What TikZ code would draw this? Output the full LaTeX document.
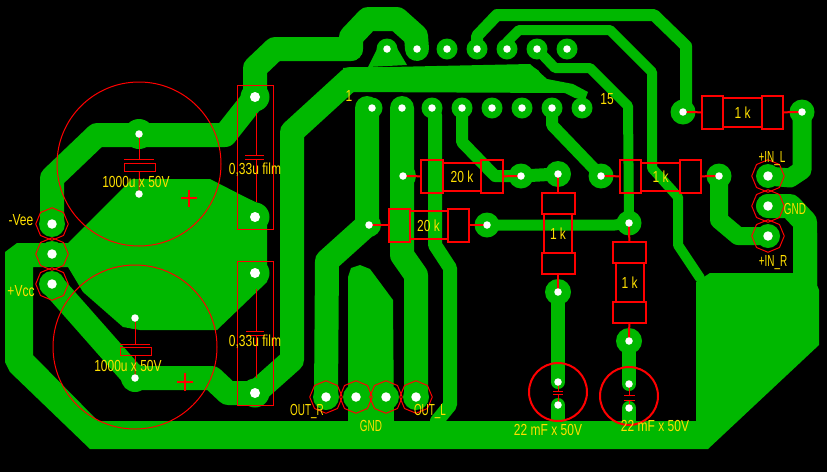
\documentclass[tikz,border=0pt]{standalone}
\usepackage{fontspec}
\usepackage{xcolor}
\usetikzlibrary{shapes.geometric,positioning}
\newfontfamily\silkfont[FakeStretch=0.75]{Liberation Sans}
\newfontfamily\silkcaps[FakeStretch=0.62]{Liberation Sans}
\definecolor{copper}{RGB}{0,184,0}
\definecolor{silk}{RGB}{255,224,0}
\definecolor{outline}{RGB}{255,0,0}

\begin{document}
\begin{tikzpicture}[
    x=1pt, y=-1pt,
    track/.style={draw=copper, line width=#1, line join=round, line cap=round},
    track/.default=24pt,
    pour/.style={fill=copper},
    pad/.style={circle, fill=copper, inner sep=0pt, minimum size=#1},
    pad/.default=21pt,
    hole/.style={circle, fill=white, inner sep=0pt, minimum size=#1},
    hole/.default=7.5pt,
    silktext/.style={font=\silkfont\fontsize{16}{16}\selectfont, text=silk, inner sep=0pt, text height=12pt, text depth=0pt},
    silkcap/.style={silktext, font=\silkcaps\fontsize{16}{16}\selectfont},
    rbody/.style={rectangle, draw=outline, line width=2pt, inner sep=0pt, outer sep=0pt, silktext, minimum width=#1},
    rcap/.style={rectangle, draw=outline, line width=2pt, inner sep=0pt, outer sep=0pt},
    lead/.style={draw=outline, line width=2pt},
    thin/.style={draw=outline, line width=1pt},
    header/.style={regular polygon, regular polygon sides=8, shape border rotate=22.5, draw=outline, line width=1pt, inner sep=0pt, minimum size=32.5pt}
]

\fill[black] (0,0) rectangle (827,472);
\useasboundingbox (0,0) rectangle (827,472);

% Pins
\coordinate (top1) at (387,49);
\coordinate (top2) at (417,49);
\coordinate (top3) at (447,49);
\coordinate (top4) at (477,49);
\coordinate (top5) at (507,49);
\coordinate (top6) at (537,49);
\coordinate (top7) at (567,49);
\coordinate (low1) at (372,108);
\coordinate (low2) at (402,108);
\coordinate (low3) at (432,108);
\coordinate (low4) at (462,108);
\coordinate (low5) at (492,108);
\coordinate (low6) at (522,108);
\coordinate (low7) at (552,108);
\coordinate (low8) at (582,108);
\coordinate (vee) at (52,224);
\coordinate (mid) at (52,254);
\coordinate (vcc) at (52,284);
\coordinate (outr) at (326,397);
\coordinate (gnda) at (356,397);
\coordinate (gndb) at (386,397);
\coordinate (outl) at (416,397);
\coordinate (inl) at (768,176);
\coordinate (ing) at (768,206);
\coordinate (inr) at (768,236);
\coordinate (ca) at (139,134);
\coordinate (cb) at (139,194);
\coordinate (cc) at (135,318);
\coordinate (cd) at (135,378);
\coordinate (fa) at (255,97);
\coordinate (fb) at (255,217);
\coordinate (fc) at (255,273);
\coordinate (fd) at (255,393);
\coordinate (ra) at (683,112);
\coordinate (rb) at (802,112);
\coordinate (rc) at (403,176);
\coordinate (rd) at (521,176);
\coordinate (re) at (369,225);
\coordinate (rf) at (487,225);
\coordinate (rg) at (601,176);
\coordinate (rh) at (719,176);
\coordinate (ri) at (558,174);
\coordinate (rj) at (558,292);
\coordinate (rk) at (629,223);
\coordinate (rl) at (629,341);
\coordinate (sa) at (558,382);
\coordinate (sb) at (558,405);
\coordinate (sc) at (629,384);
\coordinate (sd) at (629,408);

% Copper areas
\fill[pour] (5,252) -- (17,243) -- (68,243) -- (132,179) -- (210,179) -- (247,198) -- (262,205) -- (267,213) -- (267,282) -- (217,330) -- (140,330) -- (123,327) -- (83,292) -- (68,267) -- (33,267) -- (33,355) -- (98,421) -- (696,421) -- (696,282) -- (710,273) -- (793,273) -- (793,233) -- (817,233) -- (817,285) -- (819,290) -- (819,345) -- (708,449) -- (90,449) -- (10,372) -- (5,362) -- cycle;
\fill[pour] (343,68) -- (530,64) -- (547,79) -- (573,84) -- (588,92) -- (585,100) -- (575,98) -- (565,93) -- (350,92) -- cycle;
\fill[pour] (380,43) -- (394,43) -- (407,65) -- (368,67) -- cycle;
\fill[pour] (348,277) -- (351,268) -- (360,265) -- (370,269) -- (393,300) -- (394,421) -- (348,421) -- cycle;

% Tracks
\draw[track] (vee) -- (52,178) -- (97,135) -- (225,135) -- (fa);
\draw[track] (fa) -- (255,68) -- (275,49) -- (351,49);
\draw[track] (351,49) -- (351,37) -- (368,19) -- (397,19) -- (416,36) -- (top2);
\draw[track] (fd) -- (292,360) -- (292,132) -- (350,79) -- (530,79);
\draw[track] (vcc) -- (cd) -- (212,378) -- (228,393) -- (fd);
\draw[track] (367,108) -- (367,225) -- (327,261) -- (outr);
\draw[track] (low2) -- (402,255) -- (416,275) -- (outl);
\draw[track=14pt] (low3) -- (435,115) -- (435,245) -- (450,268) -- (450,405) -- (437,421);
\draw[track=12pt] (low4) -- (462,142) -- (495,176) -- (rd);
\draw[track=13pt] (rd) -- (ri);
\draw[track=12pt] (low7) -- (552,125) -- (rg);
\draw[track=12pt] (top4) -- (477,36) -- (497,15) -- (654,15) -- (686,46) -- (686,112) -- (ra);
\draw[track=10pt] (top5) -- (507,42) -- (519,30) -- (610,30) -- (652,72) -- (652,168) -- (678,197) -- (678,245) -- (700,278);
\draw[track=10pt] (top6) -- (555,68) -- (590,68) -- (628,106) -- (rk);
\draw[track=11pt] (rf) -- (615,225) -- (rk);
\draw[track=14pt] (rj) -- (sa);
\draw[track=14pt] (sb) -- (558,421);
\draw[track=14pt] (rl) -- (sc);
\draw[track=14pt] (sd) -- (629,421);
\draw[track=19pt] (rb) -- (802,170) -- (790,178) -- (inl);
\draw[track=18pt] (rh) -- (719,220) -- (738,236) -- (inr);
\draw[track] (ing) -- (790,206) -- (805,222) -- (805,285);

% Pads
\node[pad] (ptop1) at (top1) {};
\node[pad] (ptop2) at (top2) {};
\node[pad] (ptop3) at (top3) {};
\node[pad] (ptop4) at (top4) {};
\node[pad] (ptop5) at (top5) {};
\node[pad] (ptop6) at (top6) {};
\node[pad] (ptop7) at (top7) {};
\node[pad] (plow1) at (low1) {};
\node[pad] (plow2) at (low2) {};
\node[pad] (plow3) at (low3) {};
\node[pad] (plow4) at (low4) {};
\node[pad] (plow5) at (low5) {};
\node[pad] (plow6) at (low6) {};
\node[pad] (plow7) at (low7) {};
\node[pad] (plow8) at (low8) {};
\node[pad=26pt] (pvee) at (vee) {};
\node[pad=26pt] (pmid) at (mid) {};
\node[pad=26pt] (pvcc) at (vcc) {};
\node[pad=26pt] (poutr) at (outr) {};
\node[pad=26pt] (pgnda) at (gnda) {};
\node[pad=26pt] (pgndb) at (gndb) {};
\node[pad=26pt] (poutl) at (outl) {};
\node[pad=24pt] (pinl) at (inl) {};
\node[pad=24pt] (ping) at (ing) {};
\node[pad=24pt] (pinr) at (inr) {};
\node[pad=30pt] (pca) at (ca) {};
\node[pad=22pt] (pcc) at (cc) {};
\node[pad=28pt] (pcd) at (cd) {};
\node[pad=29pt] (pfa) at (fa) {};
\node[pad=29pt] (pfb) at (fb) {};
\node[pad=29pt] (pfc) at (fc) {};
\node[pad=29pt] (pfd) at (fd) {};
\node[pad=25pt] (pra) at (ra) {};
\node[pad=25pt] (prb) at (rb) {};
\node[pad=26pt] (prc) at (rc) {};
\node[pad=25pt] (prd) at (rd) {};
\node[pad=24pt] (pre) at (re) {};
\node[pad=25pt] (prf) at (rf) {};
\node[pad=25pt] (prg) at (rg) {};
\node[pad=25pt] (prh) at (rh) {};
\node[pad=26pt] (pri) at (ri) {};
\node[pad=26pt] (prj) at (rj) {};
\node[pad=25pt] (prk) at (rk) {};
\node[pad=26pt] (prl) at (rl) {};

% Resistors
\node[rbody=39pt, minimum height=29pt] (r1) at (742.5,112.5) {1 k};
\node[rcap, minimum width=21pt, minimum height=33pt, left=0pt of r1] (r1a) {};
\node[rcap, minimum width=21pt, minimum height=33pt, right=0pt of r1] (r1b) {};
\node[rbody=39pt, minimum height=28pt] (r2) at (660.5,176.5) {1 k};
\node[rcap, minimum width=21pt, minimum height=33pt, left=0pt of r2] (r2a) {};
\node[rcap, minimum width=21pt, minimum height=33pt, right=0pt of r2] (r2b) {};
\node[rbody=38pt, minimum height=28pt] (r3) at (462,176.5) {20 k};
\node[rcap, minimum width=22pt, minimum height=33pt, left=0pt of r3] (r3a) {};
\node[rcap, minimum width=22pt, minimum height=33pt, right=0pt of r3] (r3b) {};
\node[rbody=38pt, minimum height=28pt] (r4) at (428.5,225) {20 k};
\node[rcap, minimum width=21pt, minimum height=33pt, left=0pt of r4] (r4a) {};
\node[rcap, minimum width=21pt, minimum height=33pt, right=0pt of r4] (r4b) {};
\node[rbody=28pt, minimum height=39pt] (r5) at (558,233.5) {1 k};
\node[rcap, minimum width=33pt, minimum height=21pt, above=0pt of r5] (r5a) {};
\node[rcap, minimum width=33pt, minimum height=21pt, below=0pt of r5] (r5b) {};
\node[rbody=28pt, minimum height=39pt] (r6) at (629.5,282.5) {1 k};
\node[rcap, minimum width=33pt, minimum height=21pt, above=0pt of r6] (r6a) {};
\node[rcap, minimum width=33pt, minimum height=21pt, below=0pt of r6] (r6b) {};

\draw[lead] (ra) -- (r1a);
\draw[lead] (r1b) -- (rb);
\draw[lead] (rg) -- (r2a);
\draw[lead] (r2b) -- (rh);
\draw[lead] (rc) -- (r3a);
\draw[lead] (r3b) -- (rd);
\draw[lead] (re) -- (r4a);
\draw[lead] (r4b) -- (rf);
\draw[lead] (ri) -- (r5a);
\draw[lead] (r5b) -- (rj);
\draw[lead] (rk) -- (r6a);
\draw[lead] (r6b) -- (rl);

% Capacitors
\node[circle, thin, inner sep=0pt, minimum size=164pt] (c1) at (139,164) {};
\node[circle, thin, inner sep=0pt, minimum size=164pt] (c2) at (135,347) {};
\node[circle, lead, inner sep=0pt, minimum size=58pt] (c3) at (558,392) {};
\node[circle, lead, inner sep=0pt, minimum size=58pt] (c4) at (629,396) {};
\node[rectangle, thin, inner sep=0pt, minimum width=31pt, minimum height=8pt] (c1b) at (139.5,167) {};
\node[rectangle, thin, inner sep=0pt, minimum width=31pt, minimum height=8pt] (c2b) at (135.5,351) {};
\draw[thin] (124,159) -- (154,159);
\draw[thin] (120,344) -- (150,344);
\draw[thin] (ca) -- (139,159);
\draw[thin] (c1b) -- (cb);
\draw[thin] (cc) -- (135,344);
\draw[thin] (c2b) -- (cd);
\draw[outline, line width=2pt] (181,198) -- (197,198) (189,190) -- (189,207);
\draw[outline, line width=2pt] (177,382) -- (193,382) (185,373) -- (185,391);
\node[rectangle, thin, inner sep=0pt, minimum width=36pt, minimum height=144pt] (f1) at (255,157) {};
\node[rectangle, thin, inner sep=0pt, minimum width=36pt, minimum height=144pt] (f2) at (255,333) {};
\draw[thin] (245,155) -- (264,155) (245,159) -- (264,159);
\draw[thin] (246,331) -- (264,331) (246,335) -- (264,335);
\draw[thin] (256,113) -- (256,155) (256,159) -- (256,202);
\draw[thin] (256,289) -- (256,331) (256,335) -- (256,378);
\draw[thin] (553,391) -- (563,391) (553,394) -- (563,394);
\draw[thin] (624,395) -- (635,395) (624,400) -- (635,400);
\draw[thin] (sa) -- (558,391) (558,394) -- (sb);
\draw[thin] (sc) -- (629,395) (629,400) -- (sd);

% Headers
\node[header] (h1) at (vee) {};
\node[header] (h2) at (mid) {};
\node[header] (h3) at (vcc) {};
\node[header] (h4) at (outr) {};
\node[header] (h5) at (gnda) {};
\node[header] (h6) at (gndb) {};
\node[header] (h7) at (outl) {};
\node[header] (h8) at (inl) {};
\node[header] (h9) at (ing) {};
\node[header] (h10) at (inr) {};

% Holes
\node[hole] (dtop1) at (top1) {};
\node[hole] (dtop2) at (top2) {};
\node[hole] (dtop3) at (top3) {};
\node[hole] (dtop4) at (top4) {};
\node[hole] (dtop5) at (top5) {};
\node[hole] (dtop6) at (top6) {};
\node[hole] (dtop7) at (top7) {};
\node[hole] (dlow1) at (low1) {};
\node[hole] (dlow2) at (low2) {};
\node[hole] (dlow3) at (low3) {};
\node[hole] (dlow4) at (low4) {};
\node[hole] (dlow5) at (low5) {};
\node[hole] (dlow6) at (low6) {};
\node[hole] (dlow7) at (low7) {};
\node[hole] (dlow8) at (low8) {};
\node[hole=9.5pt] (dvee) at (vee) {};
\node[hole=9.5pt] (dmid) at (mid) {};
\node[hole=9.5pt] (dvcc) at (vcc) {};
\node[hole=9.5pt] (doutr) at (outr) {};
\node[hole=9.5pt] (dgnda) at (gnda) {};
\node[hole=9.5pt] (dgndb) at (gndb) {};
\node[hole=9.5pt] (doutl) at (outl) {};
\node[hole=9.5pt] (dinl) at (inl) {};
\node[hole=9.5pt] (ding) at (ing) {};
\node[hole=9.5pt] (dinr) at (inr) {};
\node[hole] (dca) at (ca) {};
\node[hole] (dcb) at (cb) {};
\node[hole] (dcc) at (cc) {};
\node[hole] (dcd) at (cd) {};
\node[hole=10pt] (dfa) at (fa) {};
\node[hole=10pt] (dfb) at (fb) {};
\node[hole=10pt] (dfc) at (fc) {};
\node[hole=10pt] (dfd) at (fd) {};
\node[hole] (dra) at (ra) {};
\node[hole] (drb) at (rb) {};
\node[hole] (drc) at (rc) {};
\node[hole] (drd) at (rd) {};
\node[hole] (dre) at (re) {};
\node[hole] (drf) at (rf) {};
\node[hole] (drg) at (rg) {};
\node[hole] (drh) at (rh) {};
\node[hole] (dri) at (ri) {};
\node[hole] (drj) at (rj) {};
\node[hole] (drk) at (rk) {};
\node[hole] (drl) at (rl) {};
\node[hole] (dsa) at (sa) {};
\node[hole] (dsb) at (sb) {};
\node[hole] (dsc) at (sc) {};
\node[hole] (dsd) at (sd) {};

% Labels
\node[silktext] (t1) at (136,181) {1000u x 50V};
\node[silktext] (t2) at (128,365) {1000u x 50V};
\node[silktext] (t3) at (255,168) {0,33u film};
\node[silktext] (t4) at (255,340) {0,33u film};
\node[silktext] (t5) at (21,219) {-Vee};
\node[silktext] (t6) at (21,290) {+Vcc};
\node[silkcap] (t7) at (307,409) {OUT\_R};
\node[silkcap] (t8) at (430,409) {OUT\_L};
\node[silkcap] (t9) at (371,425) {GND};
\node[silktext] (t10) at (349,95) {1};
\node[silktext] (t11) at (607,98) {15};
\node[silkcap] (t12) at (772,156) {+IN\_L};
\node[silkcap] (t13) at (795,208) {GND};
\node[silkcap] (t14) at (773,260) {+IN\_R};
\node[silktext] (t15) at (548,429) {22 mF x 50V};
\node[silktext] (t16) at (655,425) {22 mF x 50V};

\end{tikzpicture}
\end{document}
